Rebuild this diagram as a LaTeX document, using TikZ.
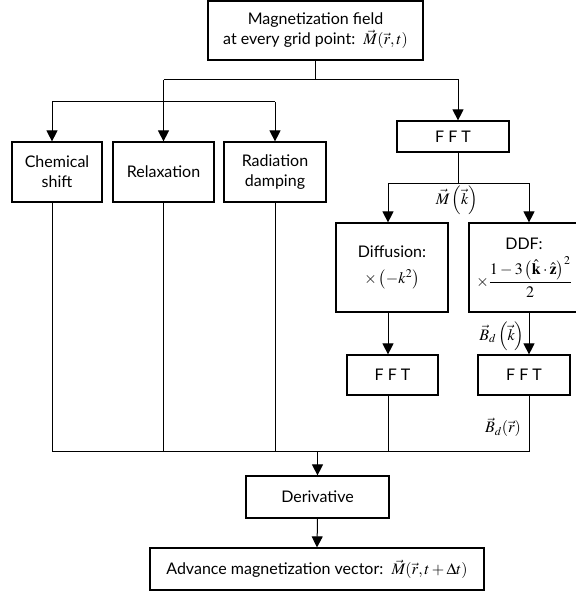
\documentclass[tikz,border=0pt]{standalone}
\usepackage{amsmath,amssymb}
\usepackage{mathptmx}
\usepackage{fontspec}
\setmainfont{Lato}
\usetikzlibrary{positioning,arrows.meta,calc}

\begin{document}
\begin{tikzpicture}[x=1pt,y=-1pt, line width=1pt,
  every node/.style={font=\fontsize{16}{20}\selectfont},
  box/.style={draw,line width=1.2pt,align=center,inner sep=0pt},
  lbl/.style={inner sep=0pt},
  >={Triangle[width=11pt,length=11pt]}]
  \useasboundingbox (0,0) rectangle (575,596);
  % boxes
  \node[box,minimum width=215,minimum height=59] (top) at (315.5,30.5) {Magnetization field\\ at every grid point:\ \ $\vec M(\vec r,t)$};
  \node[box,minimum width=90,minimum height=60] (chem) at (57,172) {Chemical\\ shift};
  \node[box,minimum width=101,minimum height=60] (relax) at (163.5,172) {Relaxation};
  \node[box,minimum width=102,minimum height=60] (rad) at (275,172) {Radiation\\ damping};
  \node[box,minimum width=112,minimum height=31] (fftA) at (453,136.5) {F F T};
  \node[box,minimum width=112,minimum height=89] (diff) at (392,267.5) {Diffusion:\\[6pt] $\times\left(-k^{2}\right)$};
  \node[box,minimum width=110,minimum height=89] (ddf) at (524,267.5) {DDF:\\[6pt] $\times\dfrac{1-3\left(\hat{\mathbf{k}}\cdot\hat{\mathbf{z}}\right)^{2}}{2}$};
  \node[box,minimum width=91,minimum height=40] (fftB) at (392.5,375) {F F T};
  \node[box,minimum width=92,minimum height=40] (fftC) at (524,375) {F F T};
  \node[box,minimum width=143,minimum height=42] (deriv) at (317.5,497) {Derivative};
  \node[box,minimum width=334,minimum height=42] (adv) at (317,569) {Advance magnetization vector:\ \ $\vec M(\vec r,t+\Delta t)$};
  % labels
  \node[lbl] (mk) at (457,200) {$\vec M\left(\vec k\right)$};
  \node[lbl] (bdk) at (502,336) {$\vec B_d\left(\vec k\right)$};
  \node[lbl] (bdr) at (503,427) {$\vec B_d(\vec r)$};
  % junctions
  \coordinate (hub) at (315.5,80);
  \coordinate (fork) at (163.5,102);
  \coordinate (split) at (0,183);
  \coordinate (bus) at (0,451);
  \coordinate (cx) at (52,0);
  \coordinate (fx) at (458,0);
  \coordinate (dx) at (388,0);
  \coordinate (ex) at (529,0);
  % top tree
  \draw (top.south) -- (hub);
  \draw[->] (relax.north |- hub) -| (fx |- fftA.north);
  \draw[->] (relax.north |- hub) -- (relax.north);
  \draw (cx |- fork) -- (fork -| rad.north);
  \draw[->] (cx |- fork) -- (cx |- chem.north);
  \draw[->] (rad.north |- fork) -- (rad.north);
  % k-space branch
  \draw (fx |- fftA.south) -- (fx |- split);
  \draw (dx |- split) -- (ex |- split);
  \draw[->] (dx |- split) -- (dx |- diff.north);
  \draw[->] (ex |- split) -- (ex |- ddf.north);
  \draw[->] (dx |- diff.south) -- (dx |- fftB.north);
  \draw[->] (ex |- ddf.south) -- (ex |- fftC.north);
  % collect
  \draw (cx |- chem.south) -- (cx |- bus) -- (ex |- bus) -- (ex |- fftC.south);
  \draw (relax.south) -- (relax.south |- bus);
  \draw (rad.south) -- (rad.south |- bus);
  \draw (dx |- fftB.south) -- (dx |- bus);
  \draw[->] (deriv.north |- bus) -- (deriv.north);
  \draw[->] (deriv.south) -- (adv.north);
\end{tikzpicture}
\end{document}
